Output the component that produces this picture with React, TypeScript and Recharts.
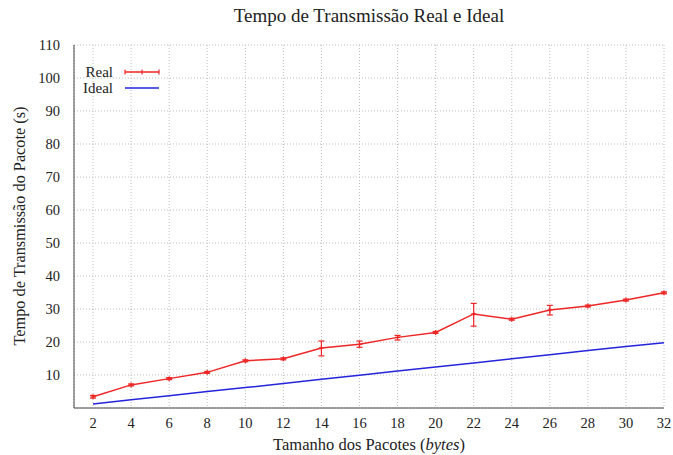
import {
  ComposedChart,
  Line,
  XAxis,
  YAxis,
  CartesianGrid,
  ErrorBar,
} from "recharts";

const packetSizes = [2, 4, 6, 8, 10, 12, 14, 16, 18, 20, 22, 24, 26, 28, 30, 32];
const realTimes = [3.4, 7.0, 8.9, 10.8, 14.3, 14.9, 18.2, 19.3, 21.4, 22.9, 28.5, 26.9, 29.7, 30.9, 32.7, 34.9];
// [minus, plus] around the real value
const realErrors: [number, number][] = [
  [0.4, 0.4], [0.3, 0.3], [0.3, 0.3], [0.3, 0.3], [0.3, 0.3], [0.3, 0.3],
  [2.4, 2.1], [0.9, 1.0], [0.8, 0.6], [0.3, 0.3], [3.7, 3.2], [0.3, 0.3],
  [1.5, 1.4], [0.3, 0.3], [0.3, 0.3], [0.3, 0.3],
];
const idealTimes = [1.2, 2.5, 3.7, 5.0, 6.2, 7.4, 8.7, 9.9, 11.2, 12.4, 13.6, 14.9, 16.1, 17.4, 18.6, 19.8];
const yTicks = [10, 20, 30, 40, 50, 60, 70, 80, 90, 100, 110];

const data = packetSizes.map((size, i) => ({
  size,
  real: realTimes[i],
  realErr: realErrors[i],
  ideal: idealTimes[i],
}));

const RED = "#ee2626";
const BLUE = "#2424dc";
const FONT = "'Liberation Serif', 'DejaVu Serif', serif";

function Cross(props: any) {
  const { cx, cy } = props;
  if (cx == null || cy == null) return <g />;
  return (
    <path
      d={`M${cx - 2.5},${cy}H${cx + 2.5}M${cx},${cy - 2.5}V${cy + 2.5}`}
      stroke={RED}
      strokeWidth={1.2}
    />
  );
}

const renderXTick = (props: any) => (
  <text
    key={`x-${props.payload.value}`}
    x={props.x}
    y={props.y + 12}
    textAnchor="middle"
    fill="#222"
    fontFamily="Liberation Serif"
    fontSize={14.5}
  >
    {props.payload.value}
  </text>
);

const renderYTick = (props: any) => (
  <text
    key={`y-${props.payload.value}`}
    x={props.x - 6}
    y={props.y + 5}
    textAnchor="end"
    fill="#222"
    fontFamily="Liberation Serif"
    fontSize={14.5}
  >
    {props.payload.value}
  </text>
);

function LegendBox() {
  const rows = [
    { label: "Real", color: RED, bars: true },
    { label: "Ideal", color: BLUE, bars: false },
  ];
  return (
    <div style={{ position: "absolute", left: 78, top: 64, fontSize: 15, color: "#222" }}>
      {rows.map((r) => (
        <div key={r.label} style={{ display: "flex", alignItems: "center", height: 16 }}>
          <span style={{ width: 35, textAlign: "right" }}>{r.label}</span>
          <svg width={48} height={12} style={{ marginLeft: 10 }}>
            <line x1={2} y1={6} x2={36} y2={6} stroke={r.color} strokeWidth={1.5} />
            {r.bars && (
              <g stroke={r.color} strokeWidth={1.2}>
                <line x1={2} y1={3.5} x2={2} y2={8.5} />
                <line x1={19} y1={3.5} x2={19} y2={8.5} />
                <line x1={36} y1={3.5} x2={36} y2={8.5} />
              </g>
            )}
          </svg>
        </div>
      ))}
    </div>
  );
}

const mirrorTickProps = {
  mirror: true,
  tickSize: 4,
  tick: { fill: "none" },
  axisLine: { stroke: "#444" },
  tickLine: { stroke: "#444" },
};

export default function App() {
  return (
    <div
      style={{
        position: "absolute",
        left: 0,
        top: 0,
        width: 673,
        height: 455,
        background: "#fff",
        fontFamily: FONT,
      }}
    >
      <div
        style={{
          position: "absolute",
          top: 5,
          left: 74,
          width: 590,
          textAlign: "center",
          fontSize: 19,
          color: "#222",
        }}
      >
        Tempo de Transmissão Real e Ideal
      </div>

      <ComposedChart
        width={673}
        height={455}
        data={data}
        margin={{ top: 45, right: 9, bottom: 0, left: 0 }}
        style={{ fontFamily: FONT }}
      >
        <CartesianGrid stroke="#bdbdbd" strokeDasharray="1 2" />
        <XAxis
          dataKey="size"
          type="number"
          domain={[1, 32]}
          ticks={packetSizes}
          height={47}
          tickLine={false}
          axisLine={{ stroke: "#444" }}
          tick={renderXTick}
        />
        <XAxis
          xAxisId="bottomTicks"
          dataKey="size"
          type="number"
          domain={[1, 32]}
          ticks={packetSizes}
          orientation="bottom"
          height={0}
          {...mirrorTickProps}
        />
        <XAxis
          xAxisId="top"
          dataKey="size"
          type="number"
          domain={[1, 32]}
          ticks={packetSizes}
          orientation="top"
          height={0}
          {...mirrorTickProps}
        />
        <YAxis
          type="number"
          domain={[0, 110]}
          ticks={yTicks}
          width={74}
          tickLine={false}
          axisLine={{ stroke: "#444" }}
          tick={renderYTick}
        />
        <YAxis
          yAxisId="leftTicks"
          type="number"
          domain={[0, 110]}
          ticks={yTicks}
          orientation="left"
          width={0}
          {...mirrorTickProps}
        />
        <YAxis
          yAxisId="right"
          type="number"
          domain={[0, 110]}
          ticks={yTicks}
          orientation="right"
          width={0}
          {...mirrorTickProps}
        />
        <Line
          dataKey="ideal"
          stroke={BLUE}
          strokeWidth={1.5}
          dot={false}
          isAnimationActive={false}
        />
        <Line
          dataKey="real"
          stroke={RED}
          strokeWidth={1.5}
          dot={<Cross />}
          isAnimationActive={false}
        >
          <ErrorBar dataKey="realErr" width={3} stroke={RED} strokeWidth={1.2} direction="y" />
        </Line>
      </ComposedChart>

      <LegendBox />

      <div
        style={{
          position: "absolute",
          top: 435,
          left: 74,
          width: 590,
          textAlign: "center",
          fontSize: 16.5,
          color: "#222",
        }}
      >
        Tamanho dos Pacotes (<i>bytes</i>)
      </div>
      <div
        style={{
          position: "absolute",
          left: 20,
          top: 226,
          transform: "translate(-50%, -50%) rotate(-90deg)",
          whiteSpace: "nowrap",
          fontSize: 16.3,
          color: "#222",
        }}
      >
        Tempo de Transmissão do Pacote (s)
      </div>
    </div>
  );
}
